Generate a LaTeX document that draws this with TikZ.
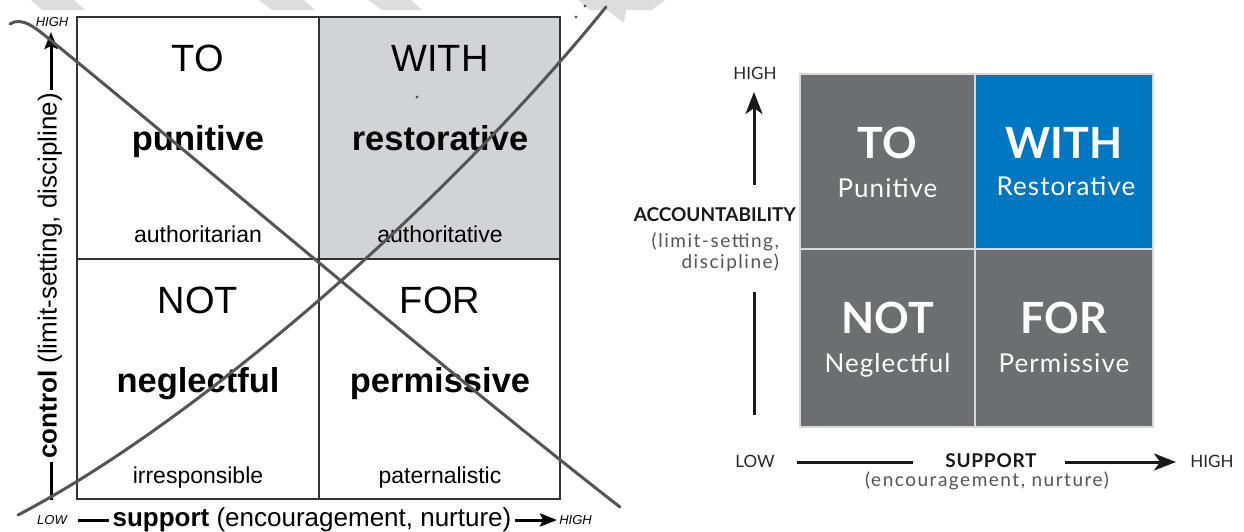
\documentclass[tikz,border=0pt]{standalone}
\usepackage{fontspec}
\setmainfont{Liberation Sans}
\newfontfamily\latof{Lato}
\newfontfamily\latosp[LetterSpace=4]{Lato}
\newfontfamily\latowide[LetterSpace=8]{Lato}
\usetikzlibrary{arrows.meta}
\definecolor{cellgray}{HTML}{6D6E71}
\definecolor{cellblue}{HTML}{0077C0}
\definecolor{lightcell}{HTML}{D1D3D4}
\definecolor{strikecol}{HTML}{555555}
\definecolor{stripecol}{HTML}{DDDDDD}
\definecolor{subgray}{HTML}{555555}
\definecolor{gridline}{HTML}{D8D8D8}
\definecolor{boxcol}{HTML}{333333}
\tikzset{
  boxline/.style={draw=boxcol, line width=2pt},
  lhead/.style={font=\fontsize{38}{40}\selectfont, anchor=base, inner sep=0pt},
  lbold/.style={font=\fontsize{34.5}{36}\selectfont\bfseries, anchor=base, inner sep=0pt},
  lsmall/.style={font=\fontsize{23}{25}\selectfont, anchor=base, inner sep=0pt},
  laxis/.style={font=\fontsize{26}{28}\selectfont, inner sep=3pt},
  ltiny/.style={font=\fontsize{13}{14}\selectfont\itshape, inner sep=0pt},
  axisline/.style={draw=black, line width=3pt},
  ltip/.style={-{Stealth[length=17pt,width=13pt,inset=3pt]}},
  rtip/.style={-{Stealth[length=22pt,width=17pt,inset=6pt]}},
  rhead/.style={font=\latof\fontsize{43}{45}\selectfont\bfseries, text=white, anchor=base, inner sep=0pt},
  rsub/.style={font=\latosp\fontsize{26}{28}\selectfont, text=white, anchor=base, inner sep=0pt},
  rlab/.style={font=\latof\fontsize{17}{19}\selectfont, text=black!85, anchor=base, inner sep=0pt},
  rbold/.style={font=\latosp\fontsize{19}{21}\selectfont\bfseries, text=black!90, anchor=base, inner sep=0pt},
  rgray/.style={font=\latowide\fontsize{19}{21}\selectfont, text=subgray, anchor=base, inner sep=0pt},
  raxis/.style={draw=black!90, line width=3pt},
  strike/.style={draw=strikecol, line width=3pt, line cap=round, line join=round},
}
\begin{document}
\begin{tikzpicture}[x=1pt,y=-1pt]
\useasboundingbox[fill=white] (0,0) rectangle (1244,531);

% ---------- light gray stripes at the top ----------
\fill[stripecol] (31,0) -- (74,0) -- (85,10) -- (42,10) -- cycle;
\fill[stripecol] (259,0) -- (304,0) -- (315,10) -- (272,10) -- cycle;
\fill[stripecol] (368,0) -- (411,0) -- (422,10) -- (382,10) -- cycle;
\fill[stripecol] (578,0) -- (665,0) -- (652,10) -- (626,10) -- (624,23) -- (607,10) -- (590,10) -- cycle;

% ---------- left diagram ----------
\fill[lightcell] (319,17) rectangle (560,259);
\draw[boxline] (77,17) rectangle (560,499);
\draw[boxline] (319,17) -- (319,499);
\draw[boxline] (77,259) -- (560,259);

\node[lhead] (lto) at (198,71) {TO};
\node[lhead] (lwith) at (440,71) {WITH};
\node[lbold] (lpun) at (198,150) {punitive};
\node[lbold] (lres) at (440,150) {restorative};
\node[lsmall] (lauth1) at (198,242) {authoritarian};
\node[lsmall] (lauth2) at (440,242) {authoritative};
\node[lhead] (lnot) at (198,313) {NOT};
\node[lhead] (lfor) at (440,313) {FOR};
\node[lbold] (lneg) at (198,392) {neglectful};
\node[lbold] (lper) at (440,392) {permissive};
\node[lsmall] (lirr) at (198,483) {irresponsible};
\node[lsmall] (lpat) at (440,483) {paternalistic};

% left vertical axis
\node[laxis, rotate=90] (lctrl) at (50,276) {\textbf{control} (limit-setting, discipline)};
\coordinate (lvbot) at (51,500);
\coordinate (lvtip) at (51,32);
\draw[axisline] (lvbot) -- (lvbot |- lctrl.west);
\draw[axisline, ltip] (lvtip |- lctrl.east) -- (lvtip);
\node[ltiny] (lhigh) at (52,22) {HIGH};

% left horizontal axis
\node[laxis, anchor=base] (lsupp) at (312,526) {\textbf{support} (encouragement, nurture)};
\node[ltiny] (llow) at (52,520) {LOW};
\coordinate (lhstart) at (78,520);
\coordinate (lhtip) at (557,520);
\draw[axisline] (lhstart) -- (lhstart -| lsupp.west);
\draw[axisline, ltip] (lhtip -| lsupp.east) -- (lhtip);
\node[ltiny] (lhigh2) at (575.5,520) {HIGH};

% hand-drawn cross
\draw[strike] (10,24) .. controls (22,16) and (36,28) .. (54,43)
  .. controls (200,162) and (450,375) .. (620,507);
\draw[strike] (18,515) .. controls (200,420) and (450,200) .. (606,7);
\fill[strikecol] (585,6) circle (1.6);
\fill[strikecol] (576,17) circle (1.6);
\fill[strikecol] (417,97) circle (1.6);

% ---------- right diagram ----------
\fill[cellgray] (800,74) rectangle (975,249);
\fill[cellblue] (975,74) rectangle (1153,249);
\fill[cellgray] (800,249) rectangle (975,427);
\fill[cellgray] (975,249) rectangle (1153,427);
\draw[gridline, line width=2pt] (975,74) -- (975,427);
\draw[gridline, line width=2pt] (800,249) -- (1153,249);
\draw[gridline, line width=1.2pt] (800,74) rectangle (1153,427);

\node[rhead] (rto) at (887.5,158) {TO};
\node[rhead] (rwith) at (1064,158) {WITH};
\node[rsub] (rpun) at (887.5,197) {Punitive};
\node[rsub] (rres) at (1066,195) {Restorative};
\node[rhead] (rnot) at (887.5,333) {NOT};
\node[rhead] (rfor) at (1064,333) {FOR};
\node[rsub] (rneg) at (887.5,372) {Neglectful};
\node[rsub] (rper) at (1064,372) {Permissive};

% right vertical axis
\node[rlab] (rhigh) at (755,79) {HIGH};
\coordinate (rvtip) at (754,92);
\coordinate (rvtopend) at (754,185);
\coordinate (rvbotstart) at (754,292);
\coordinate (rvbot) at (754,415);
\draw[raxis, rtip] (rvtopend) -- (rvtip);
\draw[raxis] (rvbotstart) -- (rvbot);
\node[rbold, anchor=base east, font=\latof\fontsize{19}{21}\selectfont\bfseries] (racc) at (796,221) {ACCOUNTABILITY};
\node[rgray, anchor=base east] (rlim) at (779,247) {(limit-setting,};
\node[rgray, anchor=base east] (rdis) at (779,268) {discipline)};

% right horizontal axis
\node[rlab] (rlow) at (755,467) {LOW};
\node[rbold] (rsupp) at (991,467) {SUPPORT};
\node[rgray] (renc) at (987,486) {(encouragement, nurture)};
\node[rlab] (rhigh2) at (1212,467) {HIGH};
\coordinate (rh1) at (797,462);
\coordinate (rh2) at (913,462);
\coordinate (rh3) at (1065,462);
\coordinate (rhtip) at (1176,462);
\draw[raxis] (rh1) -- (rh2);
\draw[raxis, rtip] (rh3) -- (rhtip);
\end{tikzpicture}
\end{document}
